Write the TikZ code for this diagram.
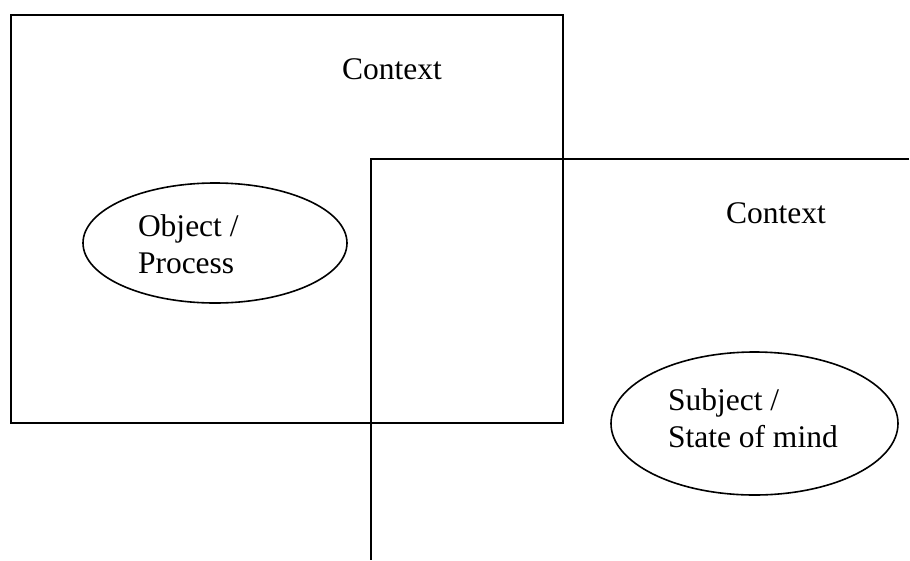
\documentclass[tikz,border=0pt]{standalone}
\usepackage{fontspec}
\setmainfont{Liberation Serif}
\usetikzlibrary{shapes.geometric}
\definecolor{ink}{HTML}{000000}

\begin{document}
\begin{tikzpicture}[x=1pt, y=-1pt, line width=2pt,
  lbl/.style={font=\fontsize{31.5}{36.5}\selectfont, text=ink, inner sep=0pt},
  blob/.style={ellipse, draw=ink, line width=1.6pt, inner sep=0pt}]

% Canvas
\useasboundingbox (0,0) rectangle (910,560);

% ================================================================
% OBJECT CONTEXT (closed box)
% ================================================================
\draw[ink] (11,15) rectangle (563,423);
\node[lbl, anchor=base] (ctxobj) at (392,79) {Context};

% Object ellipse -- text baseline is that of the last line
\node[blob, minimum width=264pt, minimum height=120pt] (obj) at (215,243) {};
\node[lbl, anchor=base west, align=left] (objtxt) at (137,273)
  {Object /\\Process};

% ================================================================
% SUBJECT CONTEXT (open to right and bottom)
% ================================================================
\draw[ink] (909,159) -- (371,159) -- (371,560);
\node[lbl, anchor=base] (ctxsubj) at (776,223) {Context};

% Subject ellipse
\node[blob, minimum width=287pt, minimum height=143pt] (subj) at (754.5,423.5) {};
\node[lbl, anchor=base west, align=left] (subjtxt) at (667,447)
  {Subject /\\State of mind};

\end{tikzpicture}
\end{document}
